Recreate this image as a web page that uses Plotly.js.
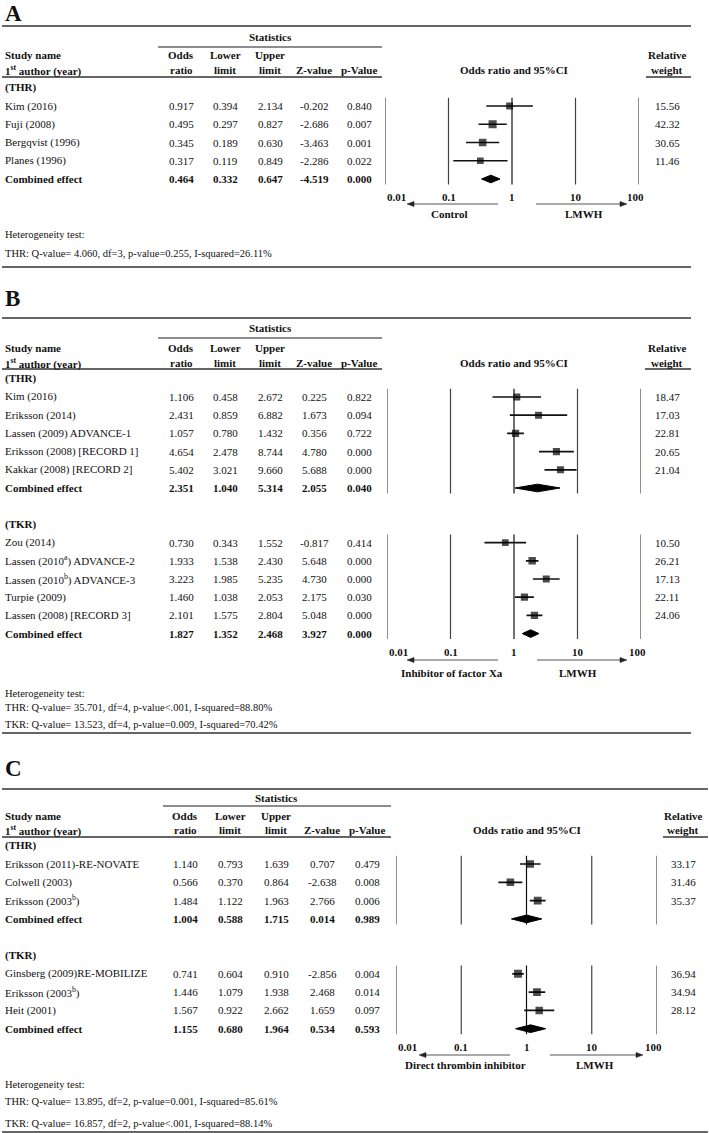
<!DOCTYPE html>
<html><head><meta charset="utf-8">
<script src="https://cdn.plot.ly/plotly-3.0.1.min.js"></script>
<style>html,body{margin:0;padding:0;background:#fff}#chart{width:709px;height:1133px}</style>
</head><body><div id="chart"></div>
<script>
// ---------- DATA ----------
const tickValues = [0.01, 0.1, 1, 10, 100];
const tickLabels = ['0.01', '0.1', '1', '10', '100'];

// Panel A - LMWH vs Control (THR)
const aThrNames = ['Kim (2016)', 'Fuji (2008)', 'Bergqvist (1996)', 'Planes (1996)'];
const aThrOR = [0.917, 0.495, 0.345, 0.317];
const aThrLower = [0.394, 0.297, 0.189, 0.119];
const aThrUpper = [2.134, 0.827, 0.630, 0.849];
const aThrZ = [-0.202, -2.686, -3.463, -2.286];
const aThrP = [0.840, 0.007, 0.001, 0.022];
const aThrWeight = [15.56, 42.32, 30.65, 11.46];
const aThrCombined = [0.464, 0.332, 0.647, -4.519, 0.000];
const aHetero = ['THR: Q-value= 4.060, df=3, p-value=0.255, I-squared=26.11%'];

// Panel B - Inhibitor of factor Xa vs LMWH
const bThrNames = ['Kim (2016)', 'Eriksson (2014)', 'Lassen (2009) ADVANCE-1', 'Eriksson (2008) [RECORD 1]', 'Kakkar (2008) [RECORD 2]'];
const bThrOR = [1.106, 2.431, 1.057, 4.654, 5.402];
const bThrLower = [0.458, 0.859, 0.780, 2.478, 3.021];
const bThrUpper = [2.672, 6.882, 1.432, 8.744, 9.660];
const bThrZ = [0.225, 1.673, 0.356, 4.780, 5.688];
const bThrP = [0.822, 0.094, 0.722, 0.000, 0.000];
const bThrWeight = [18.47, 17.03, 22.81, 20.65, 21.04];
const bThrCombined = [2.351, 1.040, 5.314, 2.055, 0.040];

const bTkrNames = ['Zou (2014)', 'Lassen (2010<sup>a</sup>) ADVANCE-2', 'Lassen (2010<sup>b</sup>) ADVANCE-3', 'Turpie (2009)', 'Lassen (2008) [RECORD 3]'];
const bTkrOR = [0.730, 1.933, 3.223, 1.460, 2.101];
const bTkrLower = [0.343, 1.538, 1.985, 1.038, 1.575];
const bTkrUpper = [1.552, 2.430, 5.235, 2.053, 2.804];
const bTkrZ = [-0.817, 5.648, 4.730, 2.175, 5.048];
const bTkrP = [0.414, 0.000, 0.000, 0.030, 0.000];
const bTkrWeight = [10.50, 26.21, 17.13, 22.11, 24.06];
const bTkrCombined = [1.827, 1.352, 2.468, 3.927, 0.000];
const bHetero = ['THR: Q-value= 35.701, df=4, p-value&lt;.001, I-squared=88.80%',
                 'TKR: Q-value= 13.523, df=4, p-value=0.009, I-squared=70.42%'];

// Panel C - Direct thrombin inhibitor vs LMWH
const cThrNames = ['Eriksson (2011)-RE-NOVATE', 'Colwell (2003)', 'Eriksson (2003<sup>b</sup>)'];
const cThrOR = [1.140, 0.566, 1.484];
const cThrLower = [0.793, 0.370, 1.122];
const cThrUpper = [1.639, 0.864, 1.963];
const cThrZ = [0.707, -2.638, 2.766];
const cThrP = [0.479, 0.008, 0.006];
const cThrWeight = [33.17, 31.46, 35.37];
const cThrCombined = [1.004, 0.588, 1.715, 0.014, 0.989];

const cTkrNames = ['Ginsberg (2009)RE-MOBILIZE', 'Eriksson (2003<sup>b</sup>)', 'Heit (2001)'];
const cTkrOR = [0.741, 1.446, 1.567];
const cTkrLower = [0.604, 1.079, 0.922];
const cTkrUpper = [0.910, 1.938, 2.662];
const cTkrZ = [-2.856, 2.468, 1.659];
const cTkrP = [0.004, 0.014, 0.097];
const cTkrWeight = [36.94, 34.94, 28.12];
const cTkrCombined = [1.155, 0.680, 1.964, 0.534, 0.593];
const cHetero = ['THR: Q-value= 13.895, df=2, p-value=0.001, I-squared=85.61%',
                 'TKR: Q-value= 16.857, df=2, p-value&lt;.001, I-squared=88.14%'];

// ---------- LAYOUT HELPERS ----------
const W = 709, H = 1133;
const FONT = "'Liberation Serif', 'Times New Roman', 'DejaVu Serif', serif";
const TXT = '#111';
const annotations = [], shapes = [], traces = [];
const layout = {
  width: W, height: H, margin: {l: 0, r: 0, t: 0, b: 0},
  font: {family: FONT, size: 11, color: TXT},
  paper_bgcolor: '#fff', plot_bgcolor: 'rgba(0,0,0,0)', showlegend: false,
  annotations, shapes
};
const PX = x => x / W, PY = y => 1 - y / H;

function T(x, y, text, o = {}) {
  annotations.push({xref: 'paper', yref: 'paper', x: PX(x), y: PY(y), text,
    showarrow: false, xanchor: o.anchor || 'center', yanchor: 'middle', borderpad: 0,
    font: {family: FONT, size: o.size || 11, color: o.color || TXT}});
}
function L(x0, y0, x1, y1, color = '#333', w = 1.2) {
  shapes.push({type: 'line', xref: 'paper', yref: 'paper', x0: PX(x0), x1: PX(x1),
    y0: PY(y0), y1: PY(y1), line: {color, width: w}});
}
function arrow(head, tail, y) {
  const dir = head < tail ? 1 : -1;            // +1: points left
  const base = head + dir * 7;
  L(tail, y, base, y, '#555', 1.1);
  shapes.push({type: 'path', xref: 'paper', yref: 'paper',
    path: `M ${PX(head)} ${PY(y)} L ${PX(base)} ${PY(y - 2.6)} L ${PX(base)} ${PY(y + 2.6)} Z`,
    fillcolor: '#222', line: {color: '#222', width: 0.5}});
}

function panel(cfg) {
  const sfx = cfg.axis;
  const xa = 'x' + sfx, ya = 'y' + sfx;
  const rowPx = r => cfg.p0 + r * cfg.s;
  layout['xaxis' + sfx] = {type: 'log', range: [-2, 2], domain: [cfg.fx0 / W, cfg.fx1 / W],
    anchor: ya, visible: false, fixedrange: true};
  const top = rowPx(cfg.rowRange[0]), bot = rowPx(cfg.rowRange[1]);
  layout['yaxis' + sfx] = {range: [cfg.rowRange[1], cfg.rowRange[0]], domain: [1 - bot / H, 1 - top / H],
    anchor: xa, visible: false, fixedrange: true};

  T(4, cfg.letterY, '<b>' + cfg.letter + '</b>', {anchor: 'left', size: 23});
  L(2, cfg.topY, cfg.rightX, cfg.topY, '#333', 1.3);
  L(cfg.statsX0, cfg.statsLineY, cfg.statsX1, cfg.statsLineY, '#666', 1.6);
  L(2, cfg.headLineY, cfg.statsX1, cfg.headLineY, '#333', 1.3);
  L(cfg.rwX0, cfg.headLineY, cfg.rightX, cfg.headLineY, '#333', 1.3);
  L(2, cfg.bottomY, cfg.rightX, cfg.bottomY, '#333', 1.3);
  const c = cfg.cols;
  T(c.up, cfg.statsY, '<b>Statistics</b>');
  T(3.5, cfg.h1, '<b>Study name</b>', {anchor: 'left'});
  T(3.5, cfg.h2, '<b>1<sup>st</sup> author (year)</b>', {anchor: 'left'});
  T(c.or, cfg.h1, '<b>Odds</b>'); T(c.or, cfg.h2, '<b>ratio</b>');
  T(c.lo, cfg.h1, '<b>Lower</b>'); T(c.lo, cfg.h2, '<b>limit</b>');
  T(c.up, cfg.h1, '<b>Upper</b>'); T(c.up, cfg.h2, '<b>limit</b>');
  T(c.z, cfg.h2, '<b>Z-value</b>');
  T(c.p, cfg.h2, '<b>p-Value</b>');
  T(c.ci, cfg.h2, '<b>Odds ratio and 95%CI</b>');
  T(c.w, cfg.h1, '<b>Relative</b>'); T(c.w, cfg.h2, '<b>weight</b>');

  const vx = [], vy = [], one = {x: [], y: []};
  const cix = [], ciy = [], sqx = [], sqy = [], sqs = [];
  cfg.groups.forEach(g => {
    const n = g.names.length;
    T(3.5, rowPx(g.start - 1), '<b>' + g.label + '</b>', {anchor: 'left'});
    g.names.forEach((nm, i) => {
      const y = rowPx(g.start + i);
      T(3.5, y, nm, {anchor: 'left'});
      T(c.or, y, g.or[i].toFixed(3));
      T(c.lo, y, g.lo[i].toFixed(3));
      T(c.up, y, g.up[i].toFixed(3));
      T(c.z, y, g.z[i].toFixed(3));
      T(c.p, y, g.p[i].toFixed(3));
      T(c.w, y, g.w[i].toFixed(2));
      cix.push(g.lo[i], g.up[i], null); ciy.push(g.start + i, g.start + i, null);
      sqx.push(g.or[i]); sqy.push(g.start + i); sqs.push(6.2 + g.w[i] * 0.045);
    });
    const cr = g.start + n, cy = rowPx(cr), cb = g.comb;
    T(3.5, cy, '<b>Combined effect</b>', {anchor: 'left'});
    [c.or, c.lo, c.up, c.z, c.p].forEach((x, k) => T(x, cy, '<b>' + cb[k].toFixed(3) + '</b>'));
    traces.push({type: 'scatter', mode: 'lines', xaxis: xa, yaxis: ya,
      x: [cb[1], cb[0], cb[2], cb[0], cb[1]], y: [cr, cr - 0.21, cr, cr + 0.21, cr],
      fill: 'toself', fillcolor: '#000', line: {color: '#000', width: 1}, hoverinfo: 'skip'});
    tickValues.forEach(v => {
      const tgt = v === 1 ? one : {x: vx, y: vy};
      tgt.x.push(v, v, null); tgt.y.push(g.start - 0.45, cr + 0.3, null);
    });
  });
  traces.unshift({type: 'scatter', mode: 'lines', xaxis: xa, yaxis: ya, x: vx, y: vy,
    line: {color: '#444', width: 1.2}, hoverinfo: 'skip'});
  traces.unshift({type: 'scatter', mode: 'lines', xaxis: xa, yaxis: ya, x: one.x, y: one.y,
    line: {color: '#111', width: 1.2}, hoverinfo: 'skip'});
  traces.push({type: 'scatter', mode: 'lines', xaxis: xa, yaxis: ya, x: cix, y: ciy,
    line: {color: '#111', width: 1.7}, hoverinfo: 'skip'});
  traces.push({type: 'scatter', mode: 'markers', xaxis: xa, yaxis: ya, x: sqx, y: sqy,
    marker: {symbol: 'square', size: sqs, color: '#000', line: {width: 0}}, hoverinfo: 'skip'});

  tickValues.forEach((v, i) => {
    annotations.push({xref: xa, yref: 'paper', x: Math.log10(v), y: PY(cfg.tickY),
      text: '<b>' + tickLabels[i] + '</b>', showarrow: false,
      xanchor: i === 0 ? 'left' : 'center', yanchor: 'middle',
      xshift: i === tickValues.length - 1 ? -4 : 0,
      font: {family: FONT, size: 11, color: TXT}});
  });
  arrow(cfg.arrL[0], cfg.arrL[1], cfg.arrowY);
  arrow(cfg.arrR[0], cfg.arrR[1], cfg.arrowY);
  T(cfg.labL[0], cfg.labY, '<b>' + cfg.labL[1] + '</b>');
  T(cfg.labR[0], cfg.labY, '<b>' + cfg.labR[1] + '</b>');
  T(3.5, cfg.hetY, 'Heterogeneity test:', {anchor: 'left', size: 10.5});
  cfg.het.forEach((t, i) => T(3.5, cfg.hetLines[i], t, {anchor: 'left', size: 10.5}));
}

const colsAB = {or: 181, lo: 225, up: 270, z: 314, p: 359, ci: 514, w: 667};

panel({axis: '', letter: 'A', letterY: 14, topY: 26, rightX: 691,
  statsY: 37, statsLineY: 47, statsX0: 158, statsX1: 382, h1: 55, h2: 70, headLineY: 77, rwX0: 646,
  bottomY: 267, cols: colsAB, p0: 106, s: 18.25, rowRange: [-1, 5], fx0: 385, fx1: 639,
  tickY: 197, arrowY: 204, arrL: [407, 498], arrR: [627, 536], labY: 214,
  labL: [449, 'Control'], labR: [584, 'LMWH'], hetY: 234, hetLines: [253], het: aHetero,
  groups: [{label: '(THR)', start: 0, names: aThrNames, or: aThrOR, lo: aThrLower, up: aThrUpper,
    z: aThrZ, p: aThrP, w: aThrWeight, comb: aThrCombined}]});

panel({axis: '2', letter: 'B', letterY: 299, topY: 318, rightX: 691,
  statsY: 328, statsLineY: 338, statsX0: 158, statsX1: 382, h1: 348, h2: 363, headLineY: 369, rwX0: 645,
  bottomY: 733, cols: colsAB, p0: 397, s: 18.2, rowRange: [-1, 14], fx0: 387, fx1: 641,
  tickY: 652, arrowY: 660, arrL: [407, 498], arrR: [627, 537], labY: 673,
  labL: [452, 'Inhibitor of factor Xa'], labR: [578, 'LMWH'], hetY: 693, hetLines: [707, 725], het: bHetero,
  groups: [
    {label: '(THR)', start: 0, names: bThrNames, or: bThrOR, lo: bThrLower, up: bThrUpper,
      z: bThrZ, p: bThrP, w: bThrWeight, comb: bThrCombined},
    {label: '(TKR)', start: 8, names: bTkrNames, or: bTkrOR, lo: bTkrLower, up: bTkrUpper,
      z: bTkrZ, p: bTkrP, w: bTkrWeight, comb: bTkrCombined}]});

panel({axis: '3', letter: 'C', letterY: 768, topY: 789, rightX: 708,
  statsY: 798, statsLineY: 806, statsX0: 163, statsX1: 391, h1: 816, h2: 830, headLineY: 837, rwX0: 663,
  bottomY: 1132, cols: {or: 185, lo: 230, up: 276, z: 322, p: 367, ci: 527, w: 683},
  p0: 864, s: 18.3, rowRange: [-1, 10], fx0: 396, fx1: 657,
  tickY: 1047, arrowY: 1055, arrL: [419, 510], arrR: [643, 550], labY: 1065,
  labL: [465, 'Direct thrombin inhibitor'], labR: [595, 'LMWH'], hetY: 1084, hetLines: [1101, 1123], het: cHetero,
  groups: [
    {label: '(THR)', start: 0, names: cThrNames, or: cThrOR, lo: cThrLower, up: cThrUpper,
      z: cThrZ, p: cThrP, w: cThrWeight, comb: cThrCombined},
    {label: '(TKR)', start: 6, names: cTkrNames, or: cTkrOR, lo: cTkrLower, up: cTkrUpper,
      z: cTkrZ, p: cTkrP, w: cTkrWeight, comb: cTkrCombined}]});

Plotly.newPlot('chart', traces, layout, {staticPlot: true, displayModeBar: false});
</script>
</body></html>
